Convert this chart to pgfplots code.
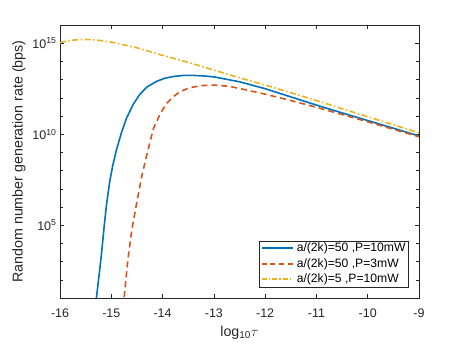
\documentclass[border=0pt]{standalone}
\usepackage{pgfplots}
\pgfplotsset{compat=1.18}
\usepackage{fontspec}
\setmainfont{Liberation Sans}
\definecolor{mblue}{RGB}{0,114,189}
\definecolor{mred}{RGB}{217,83,25}
\definecolor{myellow}{RGB}{237,177,32}
\definecolor{axgray}{RGB}{38,38,38}
\newcommand{\seg}[1]{\rule[2.4bp]{#1}{2bp}}
\newcommand{\gap}[1]{\hspace{#1}}
\begin{document}
\begin{tikzpicture}
\path[use as bounding box] (0,0) rectangle (463bp,348bp);
\begin{axis}[
  at={(60bp,50bp)}, anchor=south west,
  scale only axis, width=359bp, height=273bp,
  xmin=-16, xmax=-9, ymode=log, ymin=1e1, ymax=1e16,
  xtick={-16,-15,-14,-13,-12,-11,-10,-9},
  ytick={1e5,1e10,1e15},
  yticklabels={10\textsuperscript{5},10\textsuperscript{10},10\textsuperscript{15}},
  minor ytick={1e2,1e3,1e4,1e6,1e7,1e8,1e9,1e11,1e12,1e13,1e14},
  tick align=inside,
  major tick length=4bp, minor tick length=3bp,
  axis line style={axgray, line width=0.5bp},
  every tick/.style={axgray, line width=0.5bp},
  every minor tick/.style={axgray, line width=0.5bp},
  /pgf/number format/assume math mode=true,
  ticklabel style={font=\fontsize{12.5}{14}\selectfont, text=axgray},
  xticklabel style={yshift=-7bp},
  xlabel={log\textsubscript{10}$\tau$},
  xlabel style={yshift=-2bp},
  ylabel={Random number generation rate (bps)},
  label style={font=\fontsize{14.3}{16}\selectfont, text=axgray},
]
\addplot[mblue, line width=1.6bp] coordinates {
(-15.31,3.162) (-15.29,10) (-15.24,158.5) (-15.19,2884) (-15.14,7.943e4)
(-15.09,1.585e6) (-15.03,2.512e7) (-14.97,1.995e8) (-14.90,1.349e9)
(-14.80,1.259e10) (-14.70,7.943e10) (-14.57,4.467e11) (-14.44,1.585e12)
(-14.30,3.981e12) (-14.12,7.943e12) (-13.95,1.202e13) (-13.79,1.479e13)
(-13.60,1.698e13) (-13.40,1.698e13) (-13.20,1.585e13) (-13.00,1.413e13)
(-12.50,7.586e12) (-12.00,3.162e12) (-11.50,1.122e12) (-11.00,3.981e11)
(-10.50,1.479e11) (-10.00,5.623e10) (-9.50,2.138e10) (-9.00,7.943e9)
};
\addplot[mred, line width=1.6bp, dash pattern=on 6bp off 4bp] coordinates {
(-14.77,3.162) (-14.75,10) (-14.68,1000) (-14.60,5.495e4) (-14.50,1.995e6)
(-14.40,5.754e7) (-14.30,8.913e8) (-14.18,1.995e10) (-14.05,1.259e11)
(-13.92,5.012e11) (-13.79,1.148e12) (-13.66,2.188e12) (-13.47,3.548e12)
(-13.25,4.677e12) (-13.00,5.012e12) (-12.70,4.266e12) (-12.40,2.818e12)
(-12.00,1.585e12) (-11.50,7.079e11) (-11.00,3.020e11) (-10.50,1.202e11)
(-10.00,4.786e10) (-9.50,1.862e10) (-9.00,7.244e9)
};
\addplot[myellow, line width=1.6bp, dash pattern=on 6bp off 2.5bp on 1.5bp off 2.5bp] coordinates {
(-16.00,1.072e15) (-15.80,1.445e15) (-15.55,1.622e15) (-15.30,1.514e15)
(-15.00,1.148e15) (-14.50,5.623e14) (-14.00,2.138e14) (-13.50,8.913e13)
(-13.00,3.311e13) (-12.50,1.259e13) (-12.00,5.012e12) (-11.50,1.905e12)
(-11.00,7.079e11) (-10.50,2.512e11) (-10.00,9.120e10) (-9.50,3.311e10)
(-9.00,1.175e10)
};
\node[draw=axgray, fill=white, anchor=south east, inner xsep=2.5bp, inner ysep=2bp,
  font=\fontsize{12.2}{15.5}\selectfont, align=left]
  at (rel axis cs:0.970,0.039) {%
  {\color{mblue}\seg{31bp}}\gap{4bp}a/(2k)=50 ,P=10mW\\
  {\color{mred}\seg{5bp}\gap{3.67bp}\seg{5bp}\gap{3.67bp}\seg{5bp}\gap{3.67bp}\seg{5bp}}\gap{4bp}a/(2k)=50 ,P=3mW\\
  {\color{myellow}\seg{5bp}\gap{2bp}\seg{1.5bp}\gap{2bp}\seg{5bp}\gap{2bp}\seg{1.5bp}\gap{2bp}\seg{5bp}\gap{2bp}\seg{1.5bp}\gap{1.5bp}}\gap{4bp}a/(2k)=5 ,P=10mW};
\end{axis}
\end{tikzpicture}
\end{document}
